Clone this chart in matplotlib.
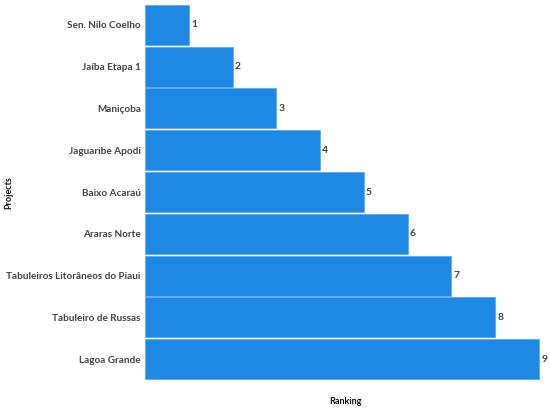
import matplotlib
matplotlib.use('Agg')
import matplotlib.pyplot as plt

# Data
projects = ['Sen. Nilo Coelho', 'Jaíba Etapa 1', 'Maniçoba', 'Jaguaribe Apodi',
            'Baixo Acaraú', 'Araras Norte', 'Tabuleiros Litorâneos do Piaui',
            'Tabuleiro de Russas', 'Lagoa Grande']
ranking = [1, 2, 3, 4, 5, 6, 7, 8, 9]

plt.rcParams['font.family'] = ['Lato', 'DejaVu Sans']

fig = plt.figure(figsize=(5.5, 4.12), dpi=100)
ax = fig.add_axes([145 / 550, 1 - 380 / 412, 1 - 145 / 550, 376 / 412])

ypos = list(range(len(projects)))
ax.barh(ypos, ranking, height=0.96, color='#1E88E5', edgecolor='#5AAAF0', linewidth=0.6)

for y, v in zip(ypos, ranking):
    ax.text(v + 0.05, y, str(v), va='center', ha='left', fontsize=7.5,
            fontweight='bold', color='#444444')

ax.set_yticks(ypos)
ax.set_yticklabels(projects, fontsize=7.2, fontweight='bold', color='#444444')
ax.set_ylim(len(projects) - 0.5, -0.5)
ax.set_xlim(0, 9 * 405 / 394)
ax.set_xticks([])
ax.tick_params(axis='y', length=0, pad=3)
for s in ax.spines.values():
    s.set_visible(False)

fig.text(345 / 550, 1 - 402 / 412, 'Ranking', fontsize=6.5, fontweight='bold',
         color='#111111', ha='center', va='center')
fig.text(9 / 550, 1 - 193 / 412, 'Projects', fontsize=6.5, fontweight='bold',
         color='#111111', ha='center', va='center', rotation=90)

fig.savefig('out.png', dpi=100)
